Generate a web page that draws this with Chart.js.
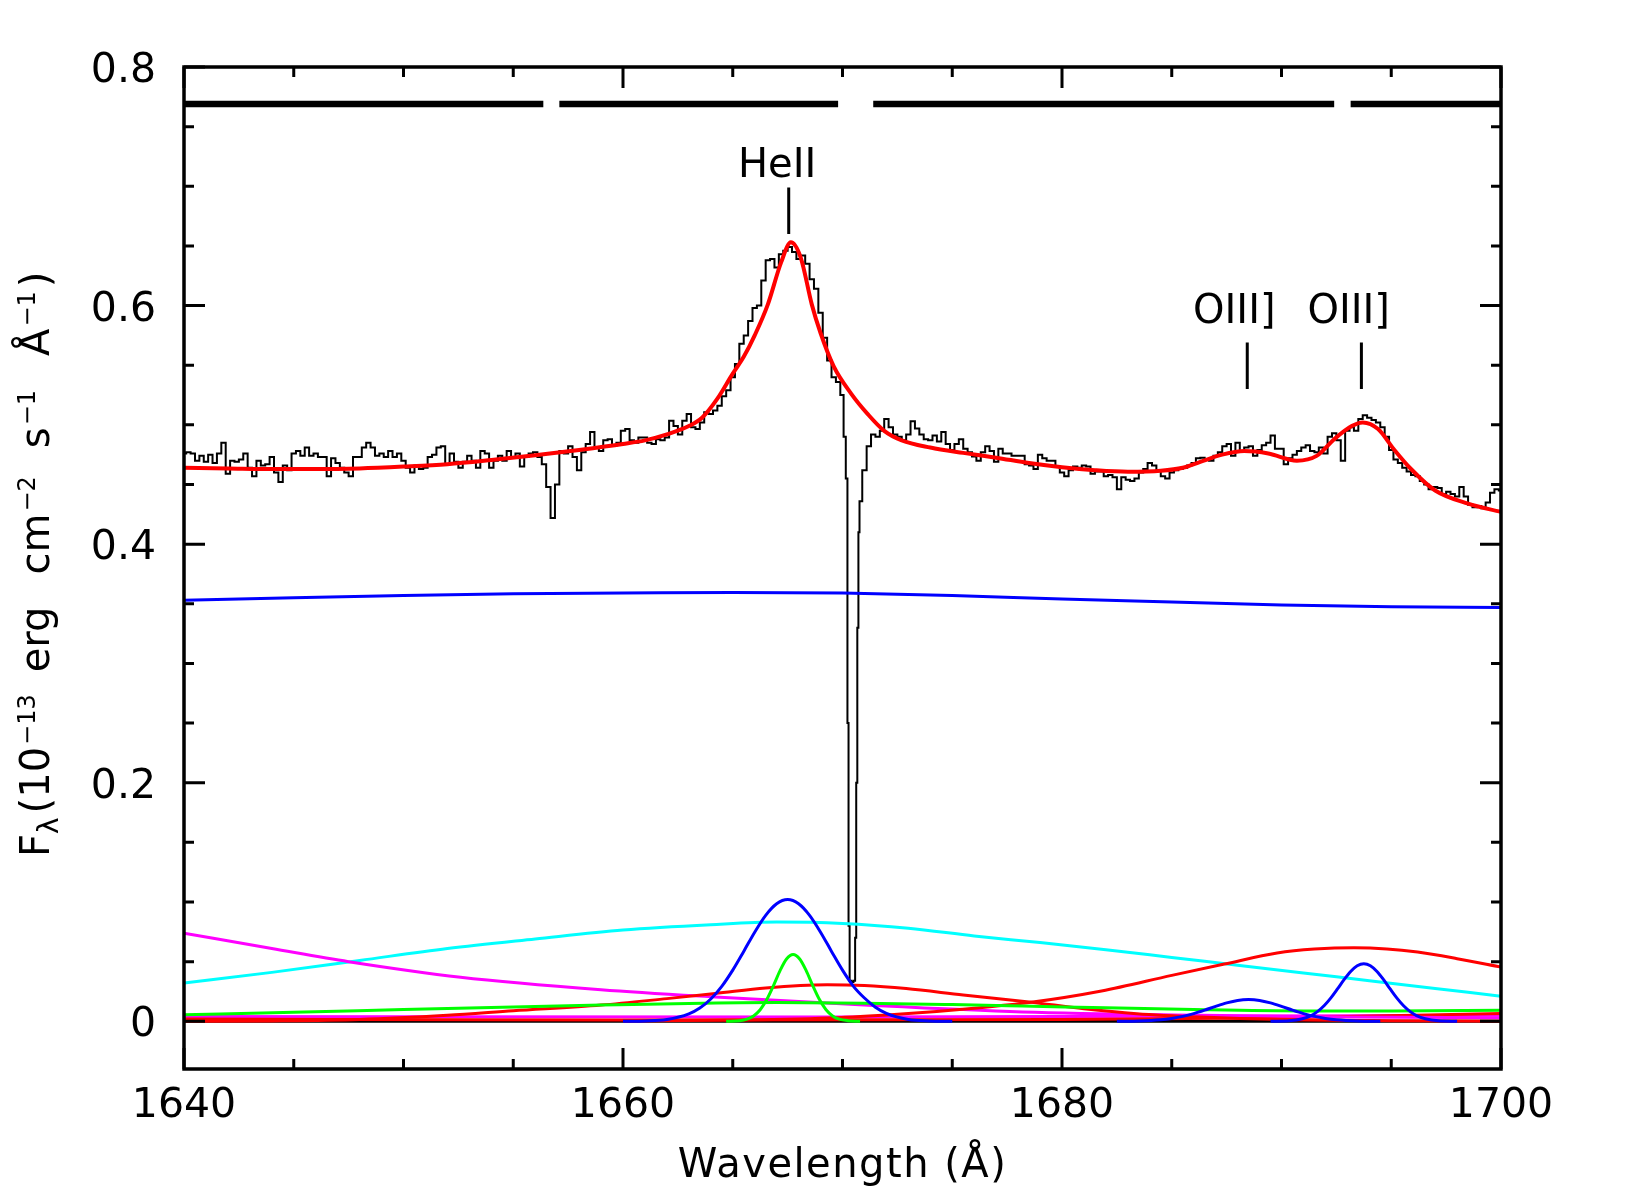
<!DOCTYPE html>
<html><head><meta charset="utf-8">
<script src="https://cdn.jsdelivr.net/npm/chart.js@4.4.1/dist/chart.umd.min.js"></script>
<style>html,body{margin:0;padding:0;background:#fff;}canvas{display:block;}</style>
</head><body>
<canvas id="c" width="1650" height="1198"></canvas>
<script>
// ---------------- data ----------------
const xTickValues = [1640, 1660, 1680, 1700];
const xTickLabels = ['1640', '1660', '1680', '1700'];
const xMinorTicks = [1645, 1650, 1655, 1665, 1670, 1675, 1685, 1690, 1695];
const yTickValues = [0, 0.2, 0.4, 0.6, 0.8];
const yTickLabels = ['0', '0.2', '0.4', '0.6', '0.8'];
const yMinorTicks = [0.05, 0.1, 0.15, 0.25, 0.3, 0.35, 0.45, 0.5, 0.55, 0.65, 0.7, 0.75];

// observed spectrum
const specWave = [
1640,1640.2,1640.4,1640.6,1640.8,1641,1641.2,1641.4,1641.6,1641.8,
1642,1642.2,1642.4,1642.6,1642.8,1643,1643.2,1643.4,1643.6,1643.8,
1644,1644.2,1644.4,1644.6,1644.8,1645,1645.2,1645.4,1645.6,1645.8,
1646,1646.2,1646.4,1646.6,1646.8,1647,1647.2,1647.4,1647.6,1647.8,
1648,1648.2,1648.4,1648.6,1648.8,1649,1649.2,1649.4,1649.6,1649.8,
1650,1650.2,1650.4,1650.6,1650.8,1651,1651.2,1651.4,1651.6,1651.8,
1652,1652.2,1652.4,1652.6,1652.8,1653,1653.2,1653.4,1653.6,1653.8,
1654,1654.2,1654.4,1654.6,1654.8,1655,1655.2,1655.4,1655.6,1655.8,
1656,1656.2,1656.4,1656.6,1656.8,1657,1657.2,1657.4,1657.6,1657.8,
1658,1658.2,1658.4,1658.6,1658.8,1659,1659.2,1659.4,1659.6,1659.8,
1660,1660.2,1660.4,1660.6,1660.8,1661,1661.2,1661.4,1661.6,1661.8,
1662,1662.2,1662.4,1662.6,1662.8,1663,1663.2,1663.4,1663.6,1663.8,
1664,1664.2,1664.4,1664.6,1664.8,1665,1665.2,1665.4,1665.6,1665.8,
1666,1666.2,1666.4,1666.6,1666.8,1667,1667.2,1667.4,1667.6,1667.8,
1668,1668.2,1668.4,1668.6,1668.8,1669,1669.2,1669.4,1669.6,1669.8,
1670,1670.1,1670.2,1670.25,1670.3,1670.35,1670.45,1670.55,1670.6,1670.65,1670.7,1670.75,1670.8,
1671,1671.2,1671.4,1671.6,1671.8,
1672,1672.2,1672.4,1672.6,1672.8,1673,1673.2,1673.4,1673.6,1673.8,
1674,1674.2,1674.4,1674.6,1674.8,1675,1675.2,1675.4,1675.6,1675.8,
1676,1676.2,1676.4,1676.6,1676.8,1677,1677.2,1677.4,1677.6,1677.8,
1678,1678.2,1678.4,1678.6,1678.8,1679,1679.2,1679.4,1679.6,1679.8,
1680,1680.2,1680.4,1680.6,1680.8,1681,1681.2,1681.4,1681.6,1681.8,
1682,1682.2,1682.4,1682.6,1682.8,1683,1683.2,1683.4,1683.6,1683.8,
1684,1684.2,1684.4,1684.6,1684.8,1685,1685.2,1685.4,1685.6,1685.8,
1686,1686.2,1686.4,1686.6,1686.8,1687,1687.2,1687.4,1687.6,1687.8,
1688,1688.2,1688.4,1688.6,1688.8,1689,1689.2,1689.4,1689.6,1689.8,
1690,1690.2,1690.4,1690.6,1690.8,1691,1691.2,1691.4,1691.6,1691.8,
1692,1692.2,1692.4,1692.6,1692.8,1693,1693.2,1693.4,1693.6,1693.8,
1694,1694.2,1694.4,1694.6,1694.8,1695,1695.2,1695.4,1695.6,1695.8,
1696,1696.2,1696.4,1696.6,1696.8,1697,1697.2,1697.4,1697.6,1697.8,
1698,1698.2,1698.4,1698.6,1698.8,1699,1699.2,1699.4,1699.6,1699.8,
1700];
const specFlux = [
0.476,0.477,0.476,0.470,0.474,0.469,0.475,0.468,0.476,0.485,
0.459,0.470,0.469,0.471,0.476,0.464,0.457,0.470,0.466,0.467,
0.473,0.460,0.452,0.466,0.462,0.476,0.478,0.474,0.481,0.474,
0.476,0.473,0.473,0.457,0.472,0.468,0.464,0.460,0.457,0.473,
0.473,0.481,0.485,0.481,0.474,0.476,0.473,0.478,0.473,0.476,
0.470,0.464,0.460,0.466,0.463,0.464,0.473,0.475,0.481,0.482,
0.467,0.476,0.469,0.464,0.469,0.474,0.470,0.464,0.478,0.476,
0.464,0.470,0.474,0.470,0.478,0.473,0.476,0.465,0.473,0.476,
0.477,0.473,0.467,0.448,0.422,0.450,0.478,0.476,0.482,0.473,
0.462,0.477,0.484,0.494,0.481,0.478,0.487,0.488,0.4825,0.485,
0.495,0.4965,0.487,0.485,0.4895,0.4895,0.485,0.484,0.488,0.487,
0.4895,0.5035,0.499,0.492,0.5035,0.509,0.498,0.4965,0.502,0.5105,
0.509,0.512,0.516,0.524,0.529,0.540,0.551,0.568,0.575,0.587,
0.598,0.600,0.621,0.638,0.639,0.632,0.643,0.646,0.649,0.645,
0.639,0.642,0.635,0.622,0.614,0.594,0.573,0.554,0.540,0.536,
0.525,0.49,0.455,0.25,0.08,0.034,0.033,0.034,0.07,0.2,0.33,0.41,0.436,
0.462,0.482,0.492,0.490,0.495,
0.505,0.498,0.492,0.490,0.487,0.492,0.503,0.497,0.492,0.488,
0.487,0.491,0.486,0.494,0.484,0.479,0.484,0.488,0.480,0.477,
0.4735,0.470,0.477,0.482,0.478,0.469,0.480,0.476,0.476,0.474,
0.474,0.474,0.467,0.466,0.463,0.475,0.472,0.470,0.470,0.465,
0.460,0.457,0.462,0.465,0.464,0.466,0.465,0.459,0.461,0.461,
0.457,0.458,0.456,0.446,0.456,0.454,0.453,0.455,0.460,0.463,
0.468,0.466,0.462,0.457,0.455,0.460,0.462,0.463,0.464,0.466,
0.468,0.472,0.4725,0.471,0.470,0.474,0.477,0.482,0.484,0.474,
0.485,0.478,0.481,0.482,0.474,0.479,0.483,0.485,0.491,0.480,
0.480,0.467,0.472,0.475,0.478,0.481,0.483,0.478,0.477,0.481,
0.476,0.490,0.493,0.487,0.470,0.495,0.498,0.495,0.505,0.508,
0.506,0.504,0.502,0.498,0.490,0.479,0.471,0.468,0.464,0.461,
0.458,0.457,0.453,0.450,0.446,0.448,0.447,0.442,0.444,0.442,
0.440,0.448,0.440,0.433,0.431,0.432,0.430,0.435,0.443,0.446,
0.445];

// total fitted model (red)
const modelWave = [1640,1642,1644,1646,1648,1650,1652,1654,1656,1658,1660,1661,1662,1663,1663.6,1664.3,1665,1665.5,1666,1666.6,1667.2,1667.65,1668.1,1668.6,1669,1669.6,1670.4,1671.15,1671.9,1672.7,1674,1675.5,1677,1678.5,1680,1681.5,1683,1684.5,1685.5,1686.3,1687.3,1688.3,1689.4,1690.7,1691.6,1692.4,1693.2,1693.7,1694.4,1695.1,1695.9,1697,1698.5,1700];
const modelFlux = [0.464,0.4635,0.463,0.463,0.4635,0.465,0.467,0.4705,0.4745,0.479,0.484,0.487,0.492,0.499,0.506,0.522,0.543,0.557,0.575,0.601,0.636,0.653,0.640,0.601,0.577,0.549,0.526,0.509,0.495,0.487,0.481,0.4765,0.4725,0.468,0.4645,0.462,0.4607,0.4615,0.464,0.469,0.475,0.478,0.476,0.470,0.474,0.488,0.499,0.502,0.4965,0.480,0.463,0.445,0.434,0.427];

// power-law continuum (blue)
const contWave = [1640,1645,1650,1655,1660,1665,1670,1675,1680,1685,1690,1695,1700];
const contFlux = [0.353,0.355,0.357,0.3585,0.359,0.3595,0.359,0.357,0.354,0.3515,0.349,0.3475,0.3468];

// very broad component (cyan)
const cyanWave = [1640,1644,1648,1652,1656,1660,1664,1667,1670,1673,1676,1679,1682,1685,1688,1691,1694,1697,1700];
const cyanFlux = [0.032,0.041,0.051,0.061,0.069,0.0765,0.081,0.0832,0.082,0.078,0.0715,0.066,0.060,0.0535,0.047,0.0405,0.034,0.0275,0.021];

// magenta components
const magWave = [1640,1644,1647.5,1652.6,1659,1664.2,1671.2,1678.2,1686.3,1693,1700];
const magFlux = [0.0738,0.061,0.050,0.037,0.0265,0.0204,0.0134,0.0078,0.005,0.0035,0.003];
const mag2Wave = [1640,1670,1700];
const mag2Flux = [0.004,0.0035,0.005];

// red broad components
const redAWave = [1640,1644,1648,1652,1655,1659,1662,1664.2,1666.5,1669.3,1671,1672.9,1675.5,1678.5,1681,1683.4,1686.3,1690,1695,1700];
const redAFlux = [0.0,0.0003,0.0015,0.005,0.0088,0.0136,0.019,0.0232,0.028,0.0307,0.030,0.0274,0.022,0.0162,0.0105,0.0064,0.0036,0.0015,0.0005,0.0001];
const redBWave = [1660,1665,1669.8,1673,1676,1678.5,1681.8,1685,1687.4,1689.8,1691.5,1693.3,1694.8,1696.2,1698,1700];
const redBFlux = [0.0003,0.001,0.003,0.0065,0.011,0.0157,0.0254,0.0385,0.048,0.0572,0.0605,0.0617,0.0607,0.058,0.0525,0.0455];
const redCWave = [1640,1660,1680,1690,1700];
const redCFlux = [0.002,0.001,0.0015,0.003,0.0065];

// green components
const greenBWave = [1640,1645,1650,1655,1659,1663,1667,1671,1675,1678.2,1682,1686,1691,1695,1700];
const greenBFlux = [0.0055,0.0075,0.0098,0.012,0.0136,0.015,0.0157,0.0152,0.014,0.0128,0.0113,0.0098,0.0087,0.0087,0.0092];
const greenNWave = [1664.7,1665.3,1665.65,1665.95,1666.25,1666.55,1666.85,1667.15,1667.45,1667.75,1668.05,1668.35,1668.65,1668.95,1669.25,1669.55,1669.85,1670.25,1670.8];
const greenNFlux = [0,0.0005,0.0018,0.0045,0.0097,0.0182,0.0297,0.0423,0.0522,0.056,0.0522,0.0423,0.0297,0.0182,0.0097,0.0045,0.0018,0.0005,0];

// blue line components (HeII, OIII] 1661, OIII] 1666)
const blueHeWave = [1660,1661,1662,1663,1663.5,1664,1664.5,1665,1665.5,1666,1666.5,1667,1667.5,1668,1668.5,1669,1669.5,1670,1670.5,1671,1671.5,1672,1673,1674,1675];
const blueHeFlux = [0,0.0003,0.0015,0.0062,0.0111,0.0187,0.0293,0.0429,0.0586,0.0747,0.0888,0.0985,0.102,0.0985,0.0888,0.0747,0.0586,0.0429,0.0293,0.0195,0.0118,0.0066,0.0015,0.0003,0];
const blueO1Wave = [1682.5,1683.5,1684.5,1685,1685.5,1686,1686.5,1687,1687.5,1688,1688.5,1689,1689.5,1690,1690.5,1691,1691.5,1692,1692.5,1693.5,1694.5];
const blueO1Flux = [0,0.0003,0.0013,0.0024,0.0041,0.0064,0.0093,0.0125,0.0154,0.0175,0.0182,0.0175,0.0154,0.0125,0.0093,0.0064,0.0041,0.0024,0.0013,0.0003,0];
const blueO2Wave = [1689.5,1690.35,1690.95,1691.35,1691.65,1691.95,1692.25,1692.55,1692.85,1693.15,1693.45,1693.75,1694.05,1694.35,1694.65,1694.95,1695.25,1695.55,1695.85,1696.15,1696.55,1697.15,1698];
const blueO2Flux = [0,0.0004,0.0021,0.0048,0.0083,0.0132,0.0196,0.0271,0.0349,0.0418,0.0466,0.0483,0.0466,0.0418,0.0349,0.0271,0.0196,0.0132,0.0083,0.0048,0.0021,0.0004,0];

// zero level and the fitted-region bar
const zeroWave = [1640, 1700];
const zeroFlux = [0, 0];
const barStart = [1640, 1657.1, 1671.4, 1693.15];
const barEnd = [1656.37, 1669.8, 1692.4, 1700];
const barLevel = 0.769;

// line identifications
const lineNames = ['HeII', 'OIII]', 'OIII]'];
const markerWave = [1667.55, 1688.44, 1693.64];
const markerLow = [0.660, 0.530, 0.530];
const markerHigh = [0.699, 0.569, 0.569];

// ---------------- build ----------------
const xy = (xs, ys) => xs.map((v, i) => ({x: v, y: ys[i]}));
const barData = [];
barStart.forEach((s, i) => {
  barData.push({x: s, y: barLevel}, {x: barEnd[i], y: barLevel});
  if (i < barStart.length - 1) barData.push({x: barEnd[i], y: null});
});
const markerData = [];
markerWave.forEach((w, i) => {
  markerData.push({x: w, y: markerLow[i]}, {x: w, y: markerHigh[i]}, {x: w, y: null});
});

const line = (data, color, width, order, extra) => Object.assign({
  data, borderColor: color, borderWidth: width, pointRadius: 0, fill: false,
  tension: 0, order, borderCapStyle: 'butt', borderJoinStyle: 'round'
}, extra || {});
const smooth = {cubicInterpolationMode: 'monotone'};

const labelPos = [
  {x: 1667.02, y: 0.7078},
  {x: 1687.85, y: 0.5852},
  {x: 1693.06, y: 0.5852}
];

const yTitleParts = [
  {t: 'F', size: 40, dy: 0, gap: 0},
  {t: 'λ', size: 28, dy: 9, gap: 0},
  {t: '(10', size: 40, dy: 0, gap: 4},
  {t: '−13', size: 24, dy: -14, gap: 2},
  {t: 'erg', size: 40, dy: 0, gap: 22},
  {t: 'cm', size: 40, dy: 0, gap: 32},
  {t: '−2', size: 24, dy: -14, gap: 2},
  {t: 's', size: 40, dy: 0, gap: 28},
  {t: '−1', size: 24, dy: -14, gap: 2},
  {t: 'Å', size: 40, dy: 0, gap: 34},
  {t: '−1', size: 24, dy: -14, gap: 2},
  {t: ')', size: 40, dy: 0, gap: 4}
];

const FONT = '"DejaVu Sans", "Liberation Sans", sans-serif';

const decor = {
  id: 'decor',
  afterDatasetsDraw(chart) {
    const {ctx, chartArea: a, scales: {x, y}} = chart;
    ctx.save();
    ctx.strokeStyle = '#000';
    ctx.fillStyle = '#000';
    ctx.lineCap = 'butt';
    // ticks (inward, all four sides)
    ctx.lineWidth = 3;
    ctx.beginPath();
    const xt = (v, len) => {
      const p = x.getPixelForValue(v);
      ctx.moveTo(p, a.bottom); ctx.lineTo(p, a.bottom - len);
      ctx.moveTo(p, a.top); ctx.lineTo(p, a.top + len);
    };
    const yt = (v, len) => {
      const p = y.getPixelForValue(v);
      ctx.moveTo(a.left, p); ctx.lineTo(a.left + len, p);
      ctx.moveTo(a.right, p); ctx.lineTo(a.right - len, p);
    };
    xTickValues.forEach(v => xt(v, 21));
    xMinorTicks.forEach(v => xt(v, 10));
    yTickValues.forEach(v => yt(v, 21));
    yMinorTicks.forEach(v => yt(v, 10));
    ctx.stroke();
    // frame
    ctx.lineWidth = 3.5;
    ctx.strokeRect(a.left, a.top, a.right - a.left, a.bottom - a.top);
    // tick labels
    ctx.font = '41px ' + FONT;
    ctx.textBaseline = 'alphabetic';
    ctx.textAlign = 'right';
    yTickValues.forEach((v, i) => ctx.fillText(yTickLabels[i], a.left - 28, y.getPixelForValue(v) + 15));
    ctx.textAlign = 'center';
    xTickValues.forEach((v, i) => ctx.fillText(xTickLabels[i], x.getPixelForValue(v), a.bottom + 48));
    // x title
    ctx.font = '40px ' + FONT;
    ctx.letterSpacing = '1.5px';
    ctx.fillText('Wavelength (Å)', (a.left + a.right) / 2, a.bottom + 108);
    ctx.letterSpacing = '0px';
    // line labels
    lineNames.forEach((n, i) => {
      ctx.fillText(n, x.getPixelForValue(labelPos[i].x), y.getPixelForValue(labelPos[i].y));
    });
    // y title (rotated)
    ctx.save();
    ctx.translate(49, 857);
    ctx.rotate(-Math.PI / 2);
    ctx.textAlign = 'left';
    let cx = 0;
    yTitleParts.forEach(p => {
      cx += p.gap;
      ctx.font = p.size + 'px ' + FONT;
      ctx.fillText(p.t, cx, p.dy);
      cx += ctx.measureText(p.t).width;
    });
    ctx.restore();
    ctx.restore();
  }
};

new Chart(document.getElementById('c'), {
  type: 'line',
  data: {
    datasets: [
      line(xy(modelWave, modelFlux), '#ff0000', 4, 0, smooth),
      line(barData, '#000000', 6.5, 0, {spanGaps: false}),
      line(markerData, '#000000', 3, 0, {spanGaps: false}),
      line(xy(blueHeWave, blueHeFlux), '#0000ff', 3, 1, smooth),
      line(xy(blueO1Wave, blueO1Flux), '#0000ff', 3, 1, smooth),
      line(xy(blueO2Wave, blueO2Flux), '#0000ff', 3, 1, smooth),
      line(xy(greenNWave, greenNFlux), '#00ff00', 3, 1, smooth),
      line(xy(greenBWave, greenBFlux), '#00ff00', 3, 2, smooth),
      line(xy(redAWave, redAFlux), '#ff0000', 3, 2, smooth),
      line(xy(redBWave, redBFlux), '#ff0000', 3, 2, smooth),
      line(xy(redCWave, redCFlux), '#ff0000', 3, 3, smooth),
      line(xy(magWave, magFlux), '#ff00ff', 3, 2, smooth),
      line(xy(mag2Wave, mag2Flux), '#ff00ff', 3, 3, smooth),
      line(xy(cyanWave, cyanFlux), '#00ffff', 3, 2, smooth),
      line(xy(contWave, contFlux), '#0000ff', 3, 2, smooth),
      line(xy(specWave, specFlux), '#000000', 2, 5, {stepped: 'middle', borderJoinStyle: 'miter'}),
      line(xy(zeroWave, zeroFlux), '#000000', 3, 6)
    ]
  },
  options: {
    responsive: false,
    animation: false,
    devicePixelRatio: 1,
    events: [],
    layout: {padding: {left: 184, right: 149, top: 67, bottom: 129}},
    plugins: {legend: {display: false}, tooltip: {enabled: false}},
    scales: {
      x: {type: 'linear', min: 1640, max: 1700, display: false},
      y: {type: 'linear', min: -0.04, max: 0.8, display: false}
    }
  },
  plugins: [decor]
});
</script>
</body></html>
